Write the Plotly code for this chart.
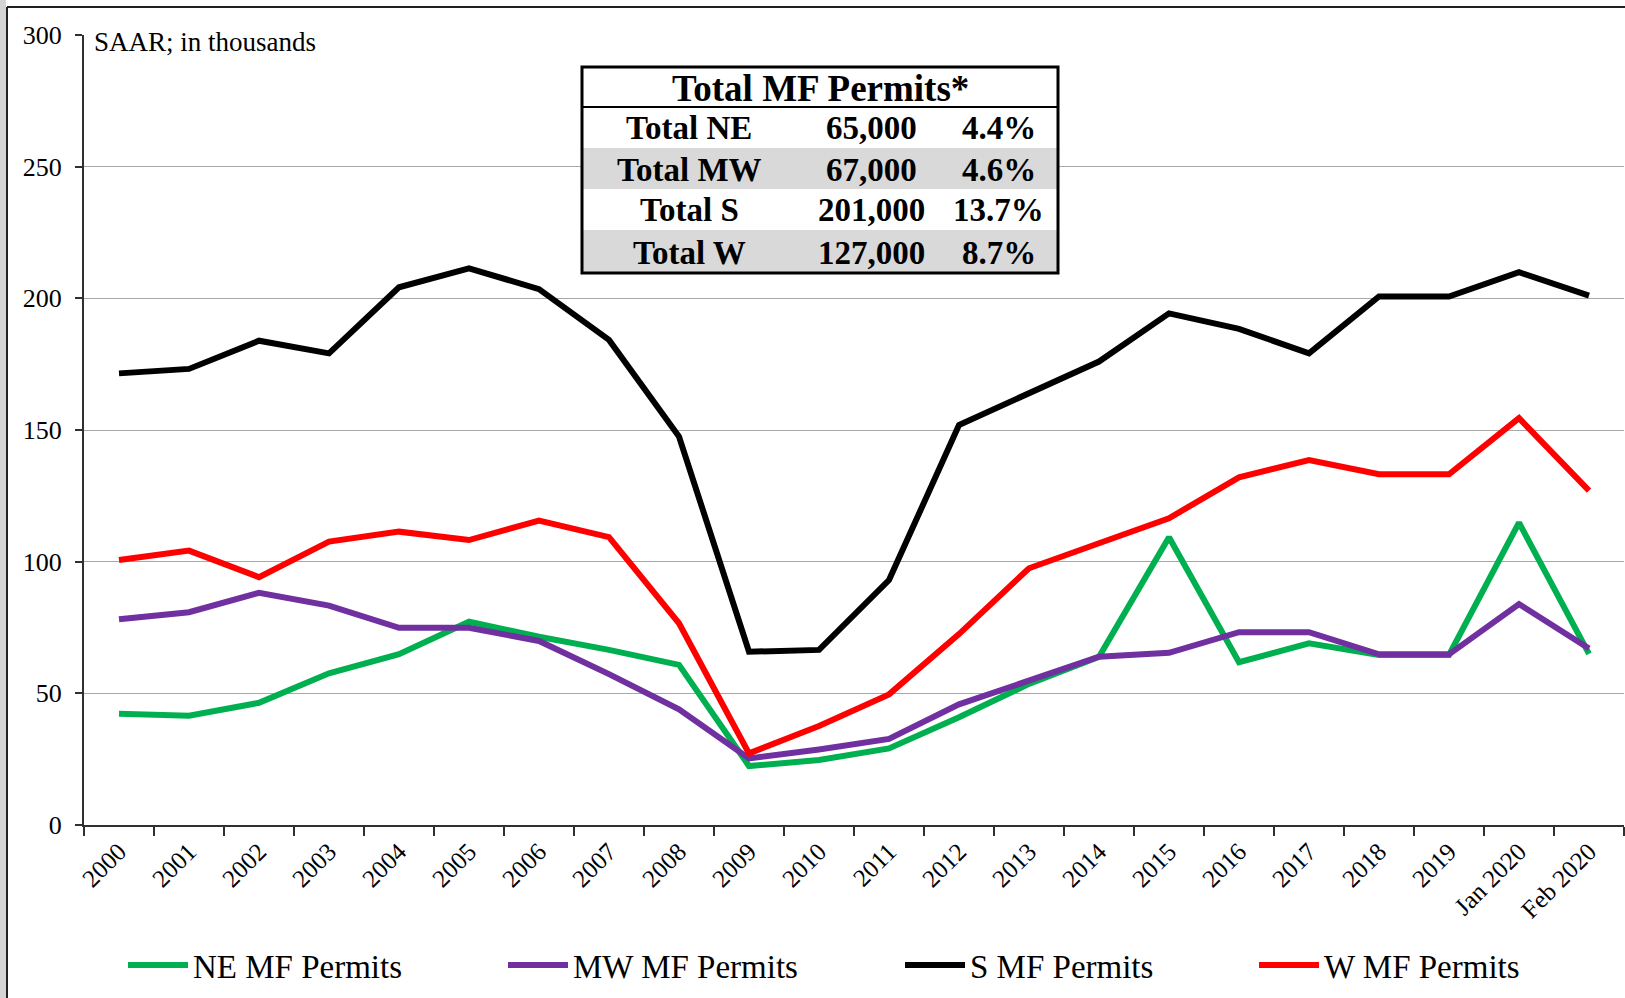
import plotly.graph_objects as go

categories = ["2000", "2001", "2002", "2003", "2004", "2005", "2006", "2007", "2008", "2009",
              "2010", "2011", "2012", "2013", "2014", "2015", "2016", "2017", "2018", "2019",
              "Jan 2020", "Feb 2020"]
ne_permits = [42.2, 41.5, 46.4, 57.6, 64.9, 77.2, 71.5, 66.5, 60.8, 22.4, 24.7, 29.1, 40.9, 53.6,
              63.9, 109.3, 61.8, 69.0, 64.6, 64.6, 114.8, 65.0]
mw_permits = [78.1, 80.8, 88.2, 83.3, 74.9, 74.9, 69.9, 57.3, 43.9, 25.3, 28.7, 32.7, 45.8, 55.0,
              63.9, 65.4, 73.2, 73.2, 64.8, 64.8, 83.9, 67.0]
s_permits = [171.5, 173.2, 183.9, 179.1, 204.2, 211.4, 203.5, 184.2, 147.5, 65.8, 66.5, 93.0, 151.9,
             163.7, 176.0, 194.3, 188.4, 179.1, 200.7, 200.7, 209.9, 201.0]
w_permits = [100.6, 104.2, 94.1, 107.6, 111.4, 108.2, 115.6, 109.3, 76.6, 27.2, 37.6, 49.6, 72.5,
             97.5, 107.0, 116.5, 132.0, 138.6, 133.2, 133.2, 154.5, 127.0]
series_names = ["NE MF Permits", "MW MF Permits", "S MF Permits", "W MF Permits"]
series_colors = ["#00b050", "#7030a0", "#000000", "#ff0000"]

table_title = "Total MF Permits*"
table_labels = ["Total NE", "Total MW", "Total S", "Total W"]
table_values = ["65,000", "67,000", "201,000", "127,000"]
table_pcts = ["4.4%", "4.6%", "13.7%", "8.7%"]
y_ticks = [0, 50, 100, 150, 200, 250, 300]
unit_note = "SAAR; in thousands"

W, H = 1625, 998
L, R, T, B = 84, 1, 35, 173
PW, PH = W - L - R, H - T - B
SERIF = "Liberation Serif"


def px(x):
    return (x - L) / PW


def py(y):
    return (H - B - y) / PH


fig = go.Figure()
legend_ids = ["legend", "legend2", "legend3", "legend4"]
for name, vals, col, lid in zip(series_names, [ne_permits, mw_permits, s_permits, w_permits],
                                series_colors, legend_ids):
    fig.add_trace(go.Scatter(x=categories, y=vals, name=name, mode="lines",
                             line=dict(color=col, width=6), legend=lid))

shapes = []
annotations = []

# figure frame
shapes.append(dict(type="rect", xref="paper", yref="paper", x0=px(0), x1=px(6), y0=py(998), y1=py(0),
                   fillcolor="#d4d4d4", line=dict(width=0), layer="below"))
shapes.append(dict(type="line", xref="paper", yref="paper", x0=px(7), x1=px(7), y0=py(998), y1=py(7),
                   line=dict(color="#202020", width=2)))
shapes.append(dict(type="line", xref="paper", yref="paper", x0=px(7), x1=px(1625), y0=py(7), y1=py(7),
                   line=dict(color="#202020", width=2)))

# table
tx0, tx1 = 582, 1058
row_edges = [67, 107, 148, 189, 230, 273]
shapes.append(dict(type="rect", xref="paper", yref="paper", x0=px(tx0), x1=px(tx1),
                   y0=py(row_edges[-1]), y1=py(row_edges[0]), fillcolor="white", line=dict(width=0)))
for i in range(len(table_labels)):
    if i % 2 == 1:
        shapes.append(dict(type="rect", xref="paper", yref="paper", x0=px(tx0), x1=px(tx1),
                           y0=py(row_edges[i + 2]), y1=py(row_edges[i + 1]),
                           fillcolor="#d9d9d9", line=dict(width=0)))
shapes.append(dict(type="line", xref="paper", yref="paper", x0=px(tx0), x1=px(tx1),
                   y0=py(row_edges[1]), y1=py(row_edges[1]), line=dict(color="black", width=2)))
shapes.append(dict(type="rect", xref="paper", yref="paper", x0=px(tx0), x1=px(tx1),
                   y0=py(row_edges[-1]), y1=py(row_edges[0]), line=dict(color="black", width=3)))

annotations.append(dict(text="<b>%s</b>" % table_title, xref="paper", yref="paper",
                        x=px((tx0 + tx1) / 2), y=py((row_edges[0] + row_edges[1]) / 2 + 1),
                        showarrow=False, font=dict(family=SERIF, size=37, color="black"),
                        xanchor="center", yanchor="middle"))
col_centers = [689, 871, 999]
for i, (lab, val, pct) in enumerate(zip(table_labels, table_values, table_pcts)):
    yc = py((row_edges[i + 1] + row_edges[i + 2]) / 2 + 1)
    for xc, txt in zip(col_centers, [lab, val, pct]):
        annotations.append(dict(text="<b>%s</b>" % txt, xref="paper", yref="paper", x=px(xc), y=yc,
                                showarrow=False, font=dict(family=SERIF, size=33, color="black"),
                                xanchor="center", yanchor="middle"))

annotations.append(dict(text=unit_note, xref="paper", yref="paper", x=px(92), y=py(25),
                        showarrow=False, xanchor="left", yanchor="top",
                        font=dict(family=SERIF, size=27, color="black")))

legend_x = [123, 503, 900, 1254]
layout_legends = {}
for lid, lx in zip(legend_ids, legend_x):
    layout_legends[lid] = dict(orientation="h", x=px(lx), y=py(965), xanchor="left", yanchor="middle",
                               font=dict(family=SERIF, size=33, color="black"), itemwidth=60,
                               bgcolor="rgba(0,0,0,0)")

fig.update_layout(
    width=W, height=H,
    margin=dict(l=L, r=R, t=T, b=B, pad=0),
    paper_bgcolor="white", plot_bgcolor="white",
    font=dict(family=SERIF, color="black"),
    showlegend=True,
    xaxis=dict(type="category", range=[-0.5, len(categories) - 0.5], showgrid=False,
               showline=True, linecolor="#303030", linewidth=2, ticks="outside", ticklen=9,
               tickcolor="#303030", tickwidth=1.5, tickson="boundaries", tickangle=-45,
               tickfont=dict(family=SERIF, size=25, color="black"), zeroline=False,
               automargin=False),
    yaxis=dict(range=[0, 300], tickvals=y_ticks, showgrid=True, gridcolor="#a8a8a8", gridwidth=1,
               showline=True, linecolor="#303030", linewidth=2, ticks="outside", ticklen=7,
               tickcolor="#303030", tickwidth=1.5, ticklabelstandoff=8,
               tickfont=dict(family=SERIF, size=26, color="black"), zeroline=False,
               automargin=False),
    shapes=shapes,
    annotations=annotations,
    **layout_legends,
)

fig.write_html("out.html", config={"displayModeBar": False},
               post_script="document.body.style.margin='0';document.body.style.overflow='hidden';")
